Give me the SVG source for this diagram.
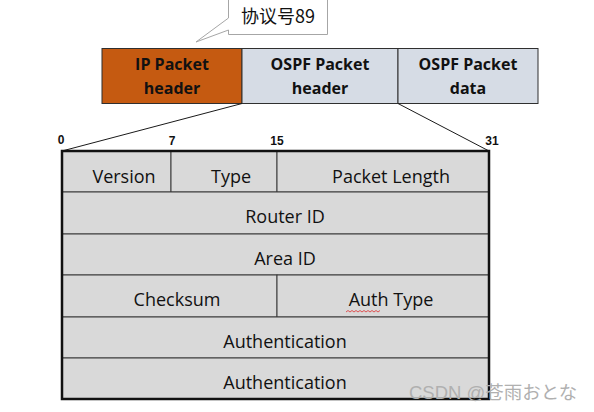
<svg xmlns="http://www.w3.org/2000/svg" width="594" height="412" viewBox="0 0 594 412">
<style>
.bar{stroke:#2f2f2f;stroke-width:1}
.bt{font-family:"Open Sans","Liberation Sans",sans-serif;font-weight:bold;font-size:16px;fill:#111;text-anchor:middle}
.cell{fill:#d9d9d9;stroke:#3a3a3a;stroke-width:1}
.ct{font-family:"Open Sans","Liberation Sans",sans-serif;font-size:18px;fill:#111;text-anchor:middle}
.num{font-family:"Liberation Sans",sans-serif;font-weight:bold;font-size:12px;fill:#111;text-anchor:middle}
.conn{stroke:#1a1a1a;stroke-width:1;fill:none}
</style>
<rect width="594" height="412" fill="#fff"/>
<g id="callout">
<path d="M228.5,-1 H327.5 V34.5 H228.5 V30 L196,42 L228.5,18 Z" fill="#fff" stroke="#a6a6a6" stroke-width="1"/>
<text x="278" y="23" font-family="'Noto Sans CJK SC','Open Sans',sans-serif" font-size="18" fill="#111" text-anchor="middle">协议号89</text>
</g>
<g id="ip-header">
<rect class="bar" x="102" y="48.5" width="140" height="55" fill="#c55a11"/>
<text class="bt" x="172" y="70">IP Packet</text>
<text class="bt" x="172" y="94">header</text>
</g>
<g id="ospf-header">
<rect class="bar" x="242" y="48.5" width="156" height="55" fill="#d6dce5"/>
<text class="bt" x="320" y="70">OSPF Packet</text>
<text class="bt" x="320" y="94">header</text>
</g>
<g id="ospf-data">
<rect class="bar" x="398" y="48.5" width="140" height="55" fill="#d6dce5"/>
<text class="bt" x="468" y="70">OSPF Packet</text>
<text class="bt" x="468" y="94">data</text>
</g>
<g id="connectors">
<line class="conn" x1="242" y1="103.5" x2="62" y2="151"/>
<line class="conn" x1="398" y1="103.5" x2="489" y2="151"/>
</g>
<g id="bit-labels">
<text class="num" x="61" y="144">0</text>
<text class="num" x="172" y="145">7</text>
<text class="num" x="277" y="145">15</text>
<text class="num" x="492" y="145">31</text>
</g>
<g id="table">
<rect class="cell" x="62" y="151" width="109" height="41"/>
<rect class="cell" x="171" y="151" width="106" height="41"/>
<rect class="cell" x="277" y="151" width="212" height="41"/>
<rect class="cell" x="62" y="192" width="427" height="42"/>
<rect class="cell" x="62" y="234" width="427" height="41"/>
<rect class="cell" x="62" y="275" width="215" height="42"/>
<rect class="cell" x="277" y="275" width="212" height="42"/>
<rect class="cell" x="62" y="317" width="427" height="41"/>
<rect class="cell" x="62" y="358" width="427" height="41"/>
<rect x="62" y="151" width="427" height="248" fill="none" stroke="#111" stroke-width="2.5"/>
<text class="ct" x="124" y="183">Version</text>
<text class="ct" x="231" y="183">Type</text>
<text class="ct" x="391" y="183">Packet Length</text>
<text class="ct" x="285" y="223">Router ID</text>
<text class="ct" x="285" y="265">Area ID</text>
<text class="ct" x="177" y="306">Checksum</text>
<text class="ct" x="391" y="306">Auth Type</text>
<path d="M346,312 l2,-1.5 l2,1.5 l2,-1.5 l2,1.5 l2,-1.5 l2,1.5 l2,-1.5 l2,1.5 l2,-1.5 l2,1.5 l2,-1.5 l2,1.5 l2,-1.5 l2,1.5 l2,-1.5 l2,1.5 l2,-1.5" fill="none" stroke="#e03030" stroke-width="0.8"/>
<text class="ct" x="285" y="348">Authentication</text>
<text class="ct" x="285" y="389">Authentication</text>
</g>
<text x="409" y="399" font-family="'Liberation Sans','Noto Sans CJK SC',sans-serif" font-size="18.5" fill="#b0b0b0">CSDN @苍雨おとな</text>
</svg>
